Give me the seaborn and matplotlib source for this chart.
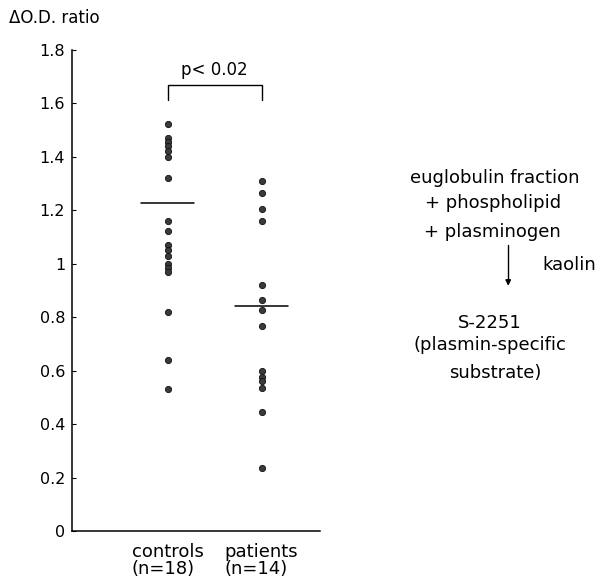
import pandas as pd
import matplotlib.pyplot as plt
import seaborn as sns
from matplotlib.ticker import FuncFormatter

# === Data ===
groups = ["controls\n(n=18)", "patients\n(n=14)"]
controls = [1.52, 1.47, 1.455, 1.44, 1.42, 1.40, 1.32, 1.16, 1.12, 1.07,
            1.05, 1.03, 1.00, 0.985, 0.97, 0.82, 0.64, 0.53]
patients = [1.31, 1.265, 1.205, 1.16, 0.92, 0.865, 0.825, 0.765, 0.60,
            0.575, 0.56, 0.535, 0.445, 0.235]
group_means = [1.225, 0.84]
p_text = "p< 0.02"
y_ticks = [0, 0.2, 0.4, 0.6, 0.8, 1, 1.2, 1.4, 1.6, 1.8]

df = pd.DataFrame({
    "group": [groups[0]] * len(controls) + [groups[1]] * len(patients),
    "ratio": controls + patients,
})

sns.set_style("ticks")
plt.rcParams["font.family"] = ["DejaVu Sans"]
plt.rcParams["font.size"] = 12
plt.rcParams["text.color"] = "black"
plt.rcParams["xtick.color"] = "black"
plt.rcParams["ytick.color"] = "black"
plt.rcParams["axes.edgecolor"] = "black"

fig = plt.figure(figsize=(6, 5.83), dpi=100)
ax = fig.add_axes([0.12, 0.0892, 0.413, 0.8258])

sns.stripplot(data=df, x="group", y="ratio", order=groups, jitter=False,
              color="#3a3a3a", size=4.5, linewidth=0.6, edgecolor="#111111", ax=ax)

# mean bars
for i, m in enumerate(group_means):
    ax.plot([i - 0.28, i + 0.28], [m, m], color="black", lw=1.1)

# significance bracket
ax.plot([0, 0, 1, 1], [1.611, 1.667, 1.667, 1.611], color="black", lw=1.0, clip_on=False)
ax.text(0.5, 1.69, p_text, ha="center", va="bottom", fontsize=12)

ax.set_xlim(-1.02, 1.62)
ax.set_ylim(0, 1.8)
ax.set_yticks(y_ticks)
ax.yaxis.set_major_formatter(FuncFormatter(lambda v, p: f"{v:g}"))
ax.tick_params(axis="y", direction="in", length=3, width=0.8, labelsize=11.5, pad=5)
ax.tick_params(axis="x", length=0, labelsize=13, pad=9)
for lbl in ax.get_xticklabels():
    lbl.set_linespacing(0.88)
    lbl.set_multialignment("left")
ax.set_xlabel("")
ax.set_ylabel("")
sns.despine(ax=ax)
for s in ["left", "bottom"]:
    ax.spines[s].set_linewidth(1.1)

fig.text(0.015, 0.969, "\u0394O.D. ratio", ha="left", va="center", fontsize=12)

# assay scheme on the right
fig.text(0.825, 0.695, "euglobulin fraction", ha="center", va="center", fontsize=13)
fig.text(0.822, 0.652, "+ phospholipid", ha="center", va="center", fontsize=13)
fig.text(0.82, 0.602, "+ plasminogen", ha="center", va="center", fontsize=13)
fig.text(0.948, 0.545, "kaolin", ha="center", va="center", fontsize=13)
fig.text(0.817, 0.446, "S-2251", ha="center", va="center", fontsize=13)
fig.text(0.817, 0.408, "(plasmin-specific", ha="center", va="center", fontsize=13)
fig.text(0.825, 0.36, "substrate)", ha="center", va="center", fontsize=13)
fig.add_artist(plt.Line2D([0.847, 0.847], [0.58, 0.515], color="black", lw=1.0))
ax.annotate("", xy=(0.847, 0.505), xytext=(0.847, 0.525), xycoords="figure fraction",
            arrowprops=dict(arrowstyle="-|>", color="black", lw=1.0, mutation_scale=8))

fig.savefig("out.png", dpi=100)
